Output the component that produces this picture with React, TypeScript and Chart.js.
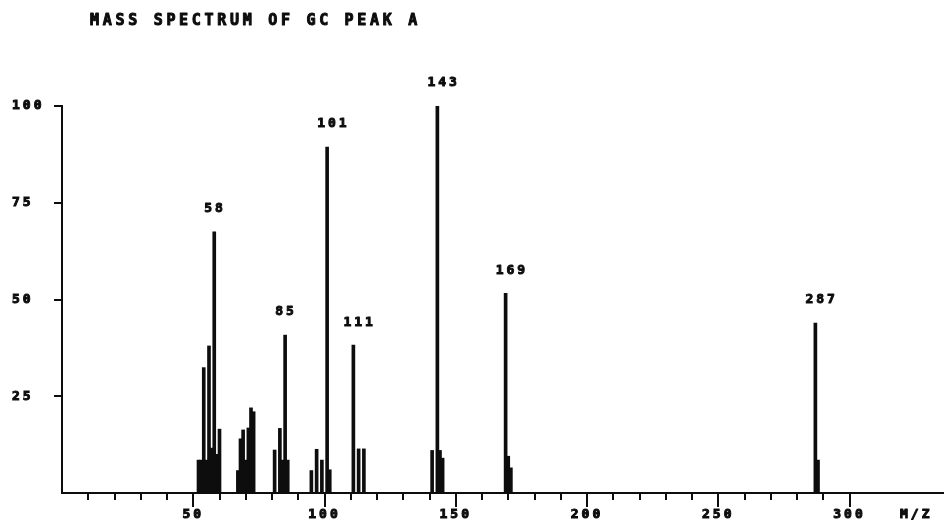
import React, { useEffect, useRef } from "react";
import { Chart, registerables } from "chart.js";

Chart.register(...registerables);

const TITLE = "MASS SPECTRUM OF GC PEAK A";
const AXIS_LABEL = "M/Z";

// m/z of every line and its relative intensity (% of base peak)
const massValues = [
  52, 53, 54, 55, 56, 57, 58, 59, 60,
  67, 68, 69, 70, 71, 72, 73,
  81, 83, 84, 85, 86,
  95, 97, 99, 101, 102,
  111, 113, 115,
  141, 143, 144, 145,
  169, 170, 171,
  287, 288,
];
const intensityValues = [
  8.5, 8.5, 32.4, 8.5, 38, 11.6, 67.5, 10, 16.5,
  5.8, 14, 16.3, 8.5, 16.8, 22, 21,
  11.1, 16.7, 8.5, 40.8, 8.5,
  5.8, 11.3, 8.5, 89.4, 6,
  38.2, 11.4, 11.4,
  11, 100, 11, 9,
  51.6, 9.5, 6.5,
  43.9, 8.5,
];

const peakMasses = [58, 85, 101, 111, 143, 169, 287];
const peakLabels = ["58", "85", "101", "111", "143", "169", "287"];

const xMajorTicks = [50, 100, 150, 200, 250, 300];
const xMinorTicks = [10, 20, 30, 40, 60, 70, 80, 90, 110, 120, 130, 140, 160, 170, 180, 190, 210, 220, 230, 240, 260, 270, 280, 290];
const yTicks = [25, 50, 75, 100];
const X_MAX = 336;
const Y_MAX = 100;

const INK = "#0d0d0d";
const FONT_FAMILY = '"DejaVu Sans Mono", "Liberation Mono", monospace';

function boldText(ctx: any, text: string, x: number, y: number) {
  ctx.fillText(text, x, y);
  ctx.strokeText(text, x, y);
}

const plotterPlugin = {
  id: "plotter",
  beforeDraw(chart: any) {
    const ctx = chart.ctx as any;
    ctx.letterSpacing = "3px";
  },
  afterDraw(chart: any) {
    const ctx = chart.ctx as any;
    const xs = chart.scales.x;
    const ys = chart.scales.y;
    const { left, bottom } = chart.chartArea;
    ctx.save();
    ctx.strokeStyle = INK;
    ctx.fillStyle = INK;
    ctx.lineWidth = 2;
    // y tick marks (pointing left)
    yTicks.forEach((v) => {
      const py = Math.round(ys.getPixelForValue(v));
      ctx.beginPath();
      ctx.moveTo(left - 8, py);
      ctx.lineTo(left, py);
      ctx.stroke();
    });
    // x tick marks (pointing down)
    xMajorTicks.forEach((v) => {
      const px = Math.round(xs.getPixelForValue(v));
      ctx.beginPath();
      ctx.moveTo(px, bottom);
      ctx.lineTo(px, bottom + 14);
      ctx.stroke();
    });
    xMinorTicks.forEach((v) => {
      const px = Math.round(xs.getPixelForValue(v));
      ctx.beginPath();
      ctx.moveTo(px, bottom);
      ctx.lineTo(px, bottom + 7);
      ctx.stroke();
    });

    // peak labels
    ctx.lineWidth = 1;
    ctx.lineJoin = "round";
    ctx.font = `bold 13px ${FONT_FAMILY}`;
    ctx.letterSpacing = "3px";
    ctx.textAlign = "left";
    ctx.textBaseline = "middle";
    peakMasses.forEach((m, i) => {
      const idx = massValues.indexOf(m);
      const px = xs.getPixelForValue(m);
      const py = ys.getPixelForValue(intensityValues[idx]);
      boldText(ctx, peakLabels[i], px - 10, py - 23);
    });

    // axis label
    boldText(ctx, AXIS_LABEL, chart.chartArea.right - 44, bottom + 22);

    // title
    ctx.font = `bold 15px ${FONT_FAMILY}`;
    ctx.letterSpacing = "3.7px";
    boldText(ctx, TITLE, left + 28, 21);
    ctx.restore();
  },
};

export default function App() {
  const canvasRef = useRef<HTMLCanvasElement | null>(null);

  useEffect(() => {
    document.body.style.margin = "0";
    document.body.style.background = "#ffffff";
    const canvas = canvasRef.current;
    if (!canvas) return;
    const tickFont = { family: FONT_FAMILY, size: 13, weight: "bold" as const };
    const chart = new Chart(canvas, {
      type: "bar",
      data: {
        datasets: [
          {
            data: massValues.map((m, i) => ({ x: m, y: intensityValues[i] })),
            backgroundColor: INK,
            borderWidth: 0,
            barThickness: 3,
            grouped: false,
          } as any,
        ],
      },
      options: {
        responsive: false,
        animation: false,
        devicePixelRatio: 1,
        layout: { padding: { top: 106, left: 12, right: 0, bottom: 0 } },
        plugins: {
          legend: { display: false },
          tooltip: { enabled: false },
          title: { display: false },
        },
        scales: {
          x: {
            type: "linear",
            min: 0,
            max: X_MAX,
            offset: false,
            grid: { display: false, drawTicks: false },
            border: { display: true, color: INK, width: 2 },
            afterBuildTicks: (s: any) => {
              s.ticks = xMajorTicks.map((v) => ({ value: v }));
            },
            afterFit: (s: any) => {
              s.height = 31;
            },
            ticks: {
              color: INK,
              font: tickFont,
              padding: 14,
              autoSkip: false,
              maxRotation: 0,
              textStrokeColor: INK,
              textStrokeWidth: 1,
              callback: (v: any) => String(v),
            },
          },
          y: {
            type: "linear",
            min: 0,
            max: Y_MAX,
            grid: { display: false, drawTicks: false },
            border: { display: true, color: INK, width: 2 },
            afterBuildTicks: (s: any) => {
              s.ticks = yTicks.map((v) => ({ value: v }));
            },
            afterFit: (s: any) => {
              s.width = 50;
            },
            ticks: {
              color: INK,
              font: tickFont,
              padding: 0,
              crossAlign: "far",
              textStrokeColor: INK,
              textStrokeWidth: 1,
              callback: (v: any) => String(v),
            },
          },
        },
      },
      plugins: [plotterPlugin],
    });
    return () => chart.destroy();
  }, []);

  return (
    <div style={{ width: 944, height: 524, background: "#fff" }}>
      <canvas ref={canvasRef} width={944} height={524} style={{ display: "block" }} />
    </div>
  );
}
